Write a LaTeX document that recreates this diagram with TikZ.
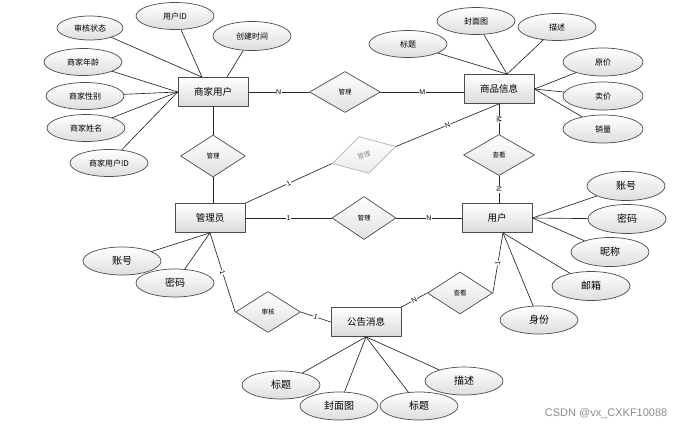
\documentclass[tikz,border=0pt]{standalone}
\usepackage{fontspec}
\setmainfont{Liberation Sans}
\newfontfamily\cjk{Noto Sans CJK SC}
\usetikzlibrary{shapes.geometric}
\begin{document}
\begin{tikzpicture}[line join=round, line cap=round, x=1pt, y=-1pt,
	every path/.style={draw=black!85, line width=.65pt},
	ent/.style={rectangle, draw=black!70, line width=.75pt, top color=white, bottom color=black!14, minimum width=70pt, minimum height=29pt, inner sep=0pt, font=\cjk\fontsize{9.5}{10}\selectfont},
	rel/.style={diamond, draw=black!70, line width=.7pt, top color=white, bottom color=black!12, minimum width=65pt, minimum height=42pt, inner sep=0pt, font=\cjk\fontsize{6.5}{7}\selectfont},
	attr/.style={ellipse, draw=black!70, line width=.7pt, top color=white, bottom color=black!13, minimum width=78pt, minimum height=27pt, inner sep=0pt, font=\cjk\fontsize{8}{9}\selectfont},
	bigattr/.style={attr, font=\cjk\fontsize{10}{11}\selectfont},
	lab/.style={fill=white, inner sep=.6pt, font=\fontsize{7}{8}\selectfont}]
	\useasboundingbox[fill=white, draw=none] (0,0) rectangle (682,429);
	\node[ent] (shyh) at (213,92) {商家用户};
	\node[ent] (spxx) at (499,89) {商品信息};
	\node[ent] (gly) at (210,218) {管理员};
	\node[ent] (yh) at (497,218) {用户};
	\node[ent] (ggxx) at (366,322) {公告消息};
	\node[rel, minimum width=71pt, minimum height=41pt] (gl1) at (345,92) {管理};
	\node[rel] (gl2) at (213,156) {管理};
	\node[rel, minimum width=64pt, minimum height=43pt] (gl3) at (364,218) {管理};
	\node[rel, minimum width=66pt, minimum height=38pt, rotate=15, draw=black!30, bottom color=black!8, text=black!45] (glg) at (364,155) {管理};
	\node[rel, minimum width=71pt, minimum height=41pt] (ck1) at (499,155) {查看};
	\node[rel] (ck2) at (460,293) {查看};
	\node[rel, minimum height=41pt] (sh) at (268,312) {审核};
	\node[attr, minimum width=66pt, minimum height=24pt] (sa1) at (90,28) {审核状态};
	\node[attr] (sa2) at (175,16) {用户ID};
	\node[attr, minimum height=29pt] (sa3) at (252,36) {创建时间};
	\node[attr] (sa4) at (83,62) {商家年龄};
	\node[attr] (sa5) at (85,96) {商家性别};
	\node[attr] (sa6) at (86,128) {商家姓名};
	\node[attr] (sa7) at (109,163) {商家用户ID};
	\node[attr] (pa1) at (408,44) {标题};
	\node[attr] (pa2) at (476,21) {封面图};
	\node[attr] (pa3) at (557,27) {描述};
	\node[attr, minimum width=80pt, minimum height=28pt] (pa4) at (603,62) {原价};
	\node[attr, minimum width=80pt, minimum height=28pt] (pa5) at (603,96) {卖价};
	\node[attr, minimum width=80pt, minimum height=28pt] (pa6) at (603,129) {销量};
	\node[bigattr, minimum height=29pt] (ua1) at (626,186) {账号};
	\node[bigattr, minimum height=29pt] (ua2) at (627,219) {密码};
	\node[bigattr, minimum height=29pt] (ua3) at (610,252) {昵称};
	\node[bigattr, minimum height=29pt] (ua4) at (591,286) {邮箱};
	\node[bigattr, minimum height=28pt] (ua5) at (539,320) {身份};
	\node[bigattr, minimum height=28pt] (ga1) at (122,261) {账号};
	\node[bigattr, minimum height=28pt] (ga2) at (175,283) {密码};
	\node[bigattr, minimum height=28pt] (na1) at (281,385) {标题};
	\node[bigattr, minimum height=28pt] (na2) at (339,406) {封面图};
	\node[bigattr, minimum height=28pt] (na3) at (419,406) {标题};
	\node[bigattr, minimum height=28pt] (na4) at (464,381) {描述};
	\coordinate (shyh-t1) at ([xshift=-11pt]shyh.north);
	\coordinate (shyh-t2) at ([xshift=14pt]shyh.north);
	\coordinate (spxx-t) at ([xshift=8pt]spxx.north);
	\coordinate (yh-b) at ([xshift=6pt]yh.south);
	\draw (shyh.east |- gl1.west) -- node[lab]{N} (gl1.west);
	\draw (gl1.east) -- node[lab]{M} (spxx.west |- gl1.east);
	\draw (shyh.south -| gl2.north) -- (gl2.north) (gl2.south) -- (gl2.south |- gly.north);
	\draw (gly.east) -- node[lab]{1} (gl3.west);
	\draw (gl3.east) -- node[lab]{N} (yh.west);
	\draw (gly.north east) -- node[lab, sloped]{1} (glg.west);
	\draw (glg.east) -- node[lab, sloped]{N} (spxx.south);
	\draw (spxx.south) -- node[lab, sloped]{M} (ck1.north);
	\draw (ck1.south) -- node[lab, sloped]{N} (ck1.south |- yh.north);
	\draw (gly.south) -- node[lab, sloped]{1} (sh.west);
	\draw (sh.east) -- node[lab, sloped]{1} (ggxx.west);
	\draw (yh-b) -- node[lab, sloped]{1} (ck2.east);
	\draw (ck2.west) -- node[lab, sloped]{N} (ggxx.north east);
	\draw (sa1) -- (shyh-t1) (sa2) -- (shyh-t1) (sa3) -- (shyh-t2);
	\foreach \a in {sa4,sa5,sa6,sa7} \draw (\a) -- (shyh.west);
	\foreach \a in {pa1,pa2,pa3} \draw (\a) -- (spxx-t);
	\foreach \a in {pa4,pa5,pa6} \draw (\a) -- (spxx.east);
	\foreach \a in {ua1,ua2,ua3} \draw (\a) -- (yh.east);
	\foreach \a in {ua4,ua5} \draw (\a) -- (yh-b);
	\foreach \a in {ga1,ga2} \draw (\a) -- (gly.south);
	\foreach \a in {na1,na2,na3,na4} \draw (\a) -- (ggxx.south);
	\node[text=black!45, font=\fontsize{11}{12}\selectfont, anchor=east] (wm) at (671,414) {CSDN @vx\_CXKF10088};
\end{tikzpicture}
\end{document}
